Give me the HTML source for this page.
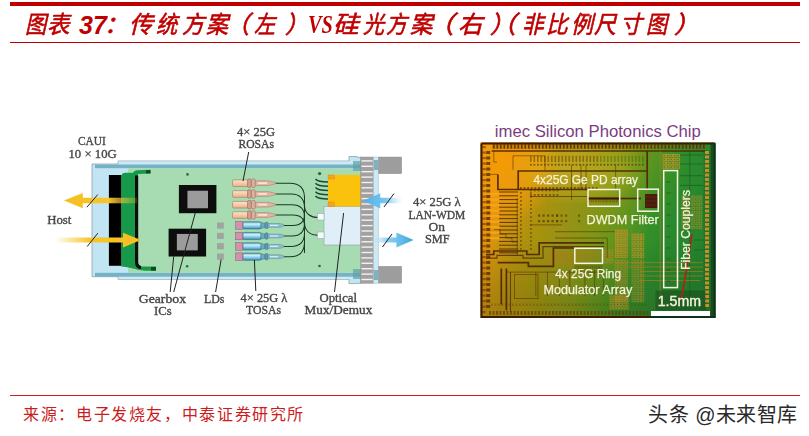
<!DOCTYPE html>
<html lang="zh-CN"><head><meta charset="utf-8">
<style>
html,body{margin:0;padding:0;background:#fff;}
body{width:809px;height:436px;position:relative;overflow:hidden;font-family:"Liberation Sans",sans-serif;}
.abs{position:absolute;}
#topbar{left:10px;top:2px;width:790px;height:4px;background:#c00000;}
#topline{left:10px;top:42px;width:790px;height:1px;background:#c00000;}
#title span{position:absolute;top:9.3px;line-height:32px;white-space:nowrap;color:#c00000;transform-origin:0 0;}
.cj{font-family:"Liberation Serif",serif;font-size:24px;font-weight:400;font-style:italic;-webkit-text-stroke:0.6px #c00000;}
.l37{font-family:"Liberation Sans",sans-serif;font-size:25px;font-weight:bold;font-style:italic;}
.lvs{font-family:"Liberation Serif",serif;font-size:26px;font-weight:bold;font-style:italic;transform:scaleX(0.78);transform-origin:0 0;}
#botline{left:10px;top:395px;width:790px;height:1px;background:#d02020;}
#src{left:23px;top:404px;font-family:"Liberation Serif",serif;font-size:16px;letter-spacing:1.63px;color:#cc1c1c;white-space:nowrap;line-height:22px;}
#wm{left:648.4px;top:402.4px;font-family:"Liberation Sans",sans-serif;font-size:20px;letter-spacing:0.4px;color:#2a2a2a;white-space:nowrap;line-height:26px;}
svg{position:absolute;left:0;top:0;}
</style></head><body>
<div class="abs" id="topbar"></div>
<div id="title">
<span class="cj" style="left:25.2px;transform:scaleX(0.888)">图</span>
<span class="cj" style="left:47.0px;transform:scaleX(0.938)">表</span>
<span class="l37" style="left:79.1px">37</span>
<span class="cj" style="left:104.4px">：</span>
<span class="cj" style="left:129.2px;transform:scaleX(0.992)">传</span>
<span class="cj" style="left:155.8px;transform:scaleX(0.888)">统</span>
<span class="cj" style="left:181.9px;transform:scaleX(0.930)">方</span>
<span class="cj" style="left:206.0px;transform:scaleX(0.919)">案</span>
<span class="cj" style="left:225.3px;transform:scaleX(1.020)">（</span>
<span class="cj" style="left:254.4px;transform:scaleX(0.880)">左</span>
<span class="cj" style="left:285.2px;transform:scaleX(0.982)">）</span>
<span class="lvs" style="left:308.0px">VS</span>
<span class="cj" style="left:333.3px;transform:scaleX(1.064)">硅</span>
<span class="cj" style="left:363.3px;transform:scaleX(0.880)">光</span>
<span class="cj" style="left:385.7px;transform:scaleX(0.880)">方</span>
<span class="cj" style="left:410.2px;transform:scaleX(0.933)">案</span>
<span class="cj" style="left:426.8px;transform:scaleX(1.120)">（</span>
<span class="cj" style="left:458.2px;transform:scaleX(1.019)">右</span>
<span class="cj" style="left:489.8px;transform:scaleX(0.991)">）</span>
<span class="cj" style="left:489.5px;transform:scaleX(1.080)">（</span>
<span class="cj" style="left:521.6px;transform:scaleX(0.896)">非</span>
<span class="cj" style="left:546.1px;transform:scaleX(0.904)">比</span>
<span class="cj" style="left:570.5px;transform:scaleX(0.915)">例</span>
<span class="cj" style="left:594.0px;transform:scaleX(0.919)">尺</span>
<span class="cj" style="left:620.1px;transform:scaleX(0.917)">寸</span>
<span class="cj" style="left:646.0px;transform:scaleX(0.880)">图</span>
<span class="cj" style="left:674.1px;transform:scaleX(1.055)">）</span>
</div>
<div class="abs" id="topline"></div>

<svg width="809" height="436" viewBox="0 0 809 436">
<defs>
  <linearGradient id="ya" x1="0" x2="1" y1="0" y2="0">
    <stop offset="0" stop-color="#f6be1e"/><stop offset="0.6" stop-color="#f7c62e"/><stop offset="1" stop-color="#f7c62e" stop-opacity="0.2"/>
  </linearGradient>
  <linearGradient id="yb" x1="0" x2="1" y1="0" y2="0">
    <stop offset="0" stop-color="#f7c62e" stop-opacity="0"/><stop offset="0.4" stop-color="#f7c62e"/><stop offset="1" stop-color="#f6be1e"/>
  </linearGradient>
  <linearGradient id="ba" x1="0" x2="1" y1="0" y2="0">
    <stop offset="0" stop-color="#4ab0e6"/><stop offset="0.6" stop-color="#7cc8ee"/><stop offset="1" stop-color="#cfeaf8" stop-opacity="0.1"/>
  </linearGradient>
  <linearGradient id="bb" x1="0" x2="1" y1="0" y2="0">
    <stop offset="0" stop-color="#cfeaf8" stop-opacity="0.1"/><stop offset="0.4" stop-color="#8ad0f0"/><stop offset="1" stop-color="#3aa8e2"/>
  </linearGradient>
  <linearGradient id="chipg" x1="476" x2="712" y1="185" y2="276" gradientUnits="userSpaceOnUse">
    <stop offset="0" stop-color="#f09a08"/><stop offset="0.1" stop-color="#ea9808"/><stop offset="0.17" stop-color="#cc980c"/><stop offset="0.26" stop-color="#aa9410"/><stop offset="0.4" stop-color="#929414"/><stop offset="0.52" stop-color="#7c9618"/><stop offset="0.62" stop-color="#5a9420"/><stop offset="0.7" stop-color="#349028"/><stop offset="0.78" stop-color="#2a8a2e"/><stop offset="1" stop-color="#22802e"/>
  </linearGradient>
  <radialGradient id="chipo" cx="500" cy="165" r="60" gradientUnits="userSpaceOnUse">
    <stop offset="0" stop-color="#f29c06" stop-opacity="0.9"/><stop offset="0.6" stop-color="#f09c08" stop-opacity="0.6"/><stop offset="1" stop-color="#f09c08" stop-opacity="0"/>
  </radialGradient>
  <radialGradient id="chipt" cx="580" cy="168" r="70" gradientUnits="userSpaceOnUse" gradientTransform="translate(580,168) scale(1,0.55) translate(-580,-168)">
    <stop offset="0" stop-color="#e8c830" stop-opacity="0.4"/><stop offset="0.6" stop-color="#e8c830" stop-opacity="0.22"/><stop offset="1" stop-color="#e8c830" stop-opacity="0"/>
  </radialGradient>
  <linearGradient id="chipv" x1="0" x2="0" y1="142" y2="318" gradientUnits="userSpaceOnUse">
    <stop offset="0" stop-color="#000" stop-opacity="0"/><stop offset="0.55" stop-color="#000" stop-opacity="0"/><stop offset="1" stop-color="#3a1800" stop-opacity="0.16"/>
  </linearGradient>
  <linearGradient id="chipl" x1="480" x2="600" y1="0" y2="0" gradientUnits="userSpaceOnUse">
    <stop offset="0" stop-color="#e07000" stop-opacity="0.12"/><stop offset="1" stop-color="#e07000" stop-opacity="0"/>
  </linearGradient>
  <pattern id="padh" width="4" height="5" patternUnits="userSpaceOnUse"><rect x="0.5" y="0" width="2" height="5" fill="#6a3608" fill-opacity="0.8"/></pattern>
  <pattern id="padh2" width="4" height="5" patternUnits="userSpaceOnUse"><rect x="0.5" y="0.5" width="2" height="4" fill="#6a3608" fill-opacity="0.6"/></pattern>
  <pattern id="padv" width="5" height="4" patternUnits="userSpaceOnUse"><rect x="0" y="0.5" width="5" height="2" fill="#6a3608" fill-opacity="0.8"/></pattern>
  <pattern id="padvo" width="5" height="4.5" patternUnits="userSpaceOnUse"><rect x="0.5" y="0.5" width="4" height="2.8" fill="#d08a20" fill-opacity="0.8"/></pattern>
  <linearGradient id="peach" x1="0" x2="0" y1="0" y2="1"><stop offset="0" stop-color="#fbe4c8"/><stop offset="0.5" stop-color="#f6cca6"/><stop offset="1" stop-color="#eab08c"/></linearGradient>
  <linearGradient id="tblue" x1="0" x2="0" y1="0" y2="1"><stop offset="0" stop-color="#5aa2c0"/><stop offset="0.3" stop-color="#d2f0fa"/><stop offset="0.6" stop-color="#8ed0ec"/><stop offset="1" stop-color="#3a88a8"/></linearGradient>
  <filter id="soft" x="-2%" y="-2%" width="104%" height="104%"><feGaussianBlur stdDeviation="0.45"/></filter>
  <filter id="soft2" x="-2%" y="-2%" width="104%" height="104%"><feGaussianBlur stdDeviation="0.3"/></filter>
</defs>

<g filter="url(#soft2)">
<!-- ============ LEFT DIAGRAM ============ -->
<!-- housing -->
<path d="M92,164 L118,164 L118,161 L349,161 L349,156.5 L357,156.5 L357,157.3 L361,157.3 L361,283.3 L357,283.3 L357,283.6 L349,283.6 L349,279.3 L118,279.3 L118,276.7 L92,276.7 Z" fill="#c2e5f4" stroke="#8ea2a9" stroke-width="0.8"/>
<!-- top / bottom blue bands -->
<rect x="95" y="164.6" width="266" height="3.6" fill="#76b2c6"/>
<rect x="118.5" y="161.5" width="242" height="1.8" fill="#cfeaf5"/>
<rect x="95" y="272.8" width="266" height="3.9" fill="#76b2c6"/>
<rect x="118.5" y="277" width="242" height="2" fill="#cfeaf5"/>
<!-- PCB -->
<rect x="128" y="168.2" width="233" height="104.6" fill="#a7dcb3"/>
<rect x="353" y="161" width="8" height="10" fill="#5f9faa" fill-opacity="0.7"/>
<rect x="353" y="269" width="8" height="10" fill="#5f9faa" fill-opacity="0.7"/>
<!-- black bar -->
<rect x="108.9" y="175" width="12.7" height="90.8" fill="#050505"/>
<!-- green connector -->
<path d="M121.3,177 Q121.3,172.8 125.5,172.8 L133,172.8 Q134,170.5 137,170.3 L150.5,169.8 L150.5,173.5 L138,174 L137.8,262 Q138,266.4 142,266.6 L156,266.6 L156,270.8 L145,270.8 Q139,270.5 134,268.8 Q127,267 121.3,266.6 Z" fill="#169a49"/>
<rect x="146" y="170.2" width="4.5" height="3.2" fill="#0b4a22"/>
<rect x="151" y="267" width="5" height="3.6" fill="#0b4a22"/>
<path d="M136.6,175.5 V262 Q136.6,267 141,267.5" fill="none" stroke="#0a0a0a" stroke-width="3.2"/>
<!-- dots -->
<g fill="#2d6a40"><circle cx="187.5" cy="174.4" r="1.3"/><circle cx="187.1" cy="266.2" r="1.3"/><circle cx="319.6" cy="173.6" r="1.7"/><circle cx="319.5" cy="266" r="1.3"/></g>
<!-- gearbox chips -->
<rect x="178.9" y="185" width="37.5" height="28.2" fill="#070707"/>
<rect x="187.4" y="190.7" width="20.6" height="17.6" fill="#9b9b9b"/>
<rect x="168.6" y="228.7" width="37.5" height="27.8" fill="#070707"/>
<rect x="176.8" y="233.9" width="21" height="16.5" fill="#9b9b9b"/>
<!-- LDs -->
<g fill="#9ea59f"><rect x="217" y="222.5" width="6.8" height="6.2"/><rect x="217" y="232.8" width="6.8" height="6.2"/><rect x="217" y="243.1" width="6.8" height="6.2"/><rect x="217" y="253.5" width="6.8" height="6.2"/></g>
<!-- fibers -->
<g fill="none" stroke="#1c3826" stroke-width="1.05">
 <path d="M304.5,196 V253"/>
 <path d="M275.5,183.2 H290 Q304.5,183.2 304.5,198"/>
 <path d="M275.5,194 H291 Q304.5,194 304.5,208"/>
 <path d="M275.5,204.7 H292 Q304.5,204.7 304.5,217"/>
 <path d="M275.5,215 H293 Q304.5,215 304.5,226"/>
 <path d="M284,225.4 H293 Q304.5,225.4 304.5,214"/>
 <path d="M284,236 H292 Q304.5,236 304.5,223"/>
 <path d="M284,246.4 H291 Q304.5,246.4 304.5,233"/>
 <path d="M284,256.7 H290 Q304.5,256.7 304.5,242"/>
 <path d="M304.5,206 C305,214 311,217.5 318,217.5"/>
 <path d="M304.5,223 C305,231.5 311,235.1 318,235.1"/>
</g>
<!-- ROSAs -->
<g transform="translate(0,183.2)">
 <rect x="232.6" y="-3.3" width="15.4" height="6.6" rx="0.8" fill="url(#peach)" stroke="#a27462" stroke-width="0.6"/>
 <rect x="247.6" y="-4.2" width="3.6" height="8.4" rx="1.2" fill="#d6a092" stroke="#8e5e50" stroke-width="0.5"/>
 <rect x="251.6" y="-4.2" width="3.6" height="8.4" rx="1.2" fill="#e2b2a2" stroke="#8e5e50" stroke-width="0.5"/>
 <path d="M255.4,-2.4 H268 L275.5,-0.7 V0.7 L268,2.4 H255.4 Z" fill="#e4b4a0" stroke="#a27462" stroke-width="0.5"/>
 <rect x="258" y="-1" width="9" height="1.8" fill="#fae0d8"/>
</g>
<g transform="translate(0,194)">
 <rect x="232.6" y="-3.3" width="15.4" height="6.6" rx="0.8" fill="url(#peach)" stroke="#a27462" stroke-width="0.6"/>
 <rect x="247.6" y="-4.2" width="3.6" height="8.4" rx="1.2" fill="#d6a092" stroke="#8e5e50" stroke-width="0.5"/>
 <rect x="251.6" y="-4.2" width="3.6" height="8.4" rx="1.2" fill="#e2b2a2" stroke="#8e5e50" stroke-width="0.5"/>
 <path d="M255.4,-2.4 H268 L275.5,-0.7 V0.7 L268,2.4 H255.4 Z" fill="#e4b4a0" stroke="#a27462" stroke-width="0.5"/>
 <rect x="258" y="-1" width="9" height="1.8" fill="#fae0d8"/>
</g>
<g transform="translate(0,204.7)">
 <rect x="232.6" y="-3.3" width="15.4" height="6.6" rx="0.8" fill="url(#peach)" stroke="#a27462" stroke-width="0.6"/>
 <rect x="247.6" y="-4.2" width="3.6" height="8.4" rx="1.2" fill="#d6a092" stroke="#8e5e50" stroke-width="0.5"/>
 <rect x="251.6" y="-4.2" width="3.6" height="8.4" rx="1.2" fill="#e2b2a2" stroke="#8e5e50" stroke-width="0.5"/>
 <path d="M255.4,-2.4 H268 L275.5,-0.7 V0.7 L268,2.4 H255.4 Z" fill="#e4b4a0" stroke="#a27462" stroke-width="0.5"/>
 <rect x="258" y="-1" width="9" height="1.8" fill="#fae0d8"/>
</g>
<g transform="translate(0,215)">
 <rect x="232.6" y="-3.3" width="15.4" height="6.6" rx="0.8" fill="url(#peach)" stroke="#a27462" stroke-width="0.6"/>
 <rect x="247.6" y="-4.2" width="3.6" height="8.4" rx="1.2" fill="#d6a092" stroke="#8e5e50" stroke-width="0.5"/>
 <rect x="251.6" y="-4.2" width="3.6" height="8.4" rx="1.2" fill="#e2b2a2" stroke="#8e5e50" stroke-width="0.5"/>
 <path d="M255.4,-2.4 H268 L275.5,-0.7 V0.7 L268,2.4 H255.4 Z" fill="#e4b4a0" stroke="#a27462" stroke-width="0.5"/>
 <rect x="258" y="-1" width="9" height="1.8" fill="#fae0d8"/>
</g>

<!-- TOSAs -->
<g transform="translate(0,225.4)">
 <rect x="235.7" y="-3.8" width="7.3" height="7.6" fill="#d590ae" stroke="#86586c" stroke-width="0.5"/>
 <rect x="243" y="-3.6" width="18" height="7.2" rx="1.5" fill="url(#tblue)" stroke="#2e6878" stroke-width="0.6"/>
 <path d="M261,-3 L265,-2 V2 L261,3Z" fill="#6aaac4" stroke="#2e6878" stroke-width="0.4"/>
 <rect x="265" y="-3.2" width="3" height="6.4" rx="1" fill="#5d9cb4" stroke="#2e6878" stroke-width="0.4"/>
 <path d="M268,-1.9 H280 L284,-0.7 V0.7 L280,1.9 H268Z" fill="#8fbed0" stroke="#3e7888" stroke-width="0.4"/>
 <rect x="270" y="-0.6" width="8" height="1.2" fill="#d8eef6"/>
</g>
<g transform="translate(0,236)">
 <rect x="235.7" y="-3.8" width="7.3" height="7.6" fill="#d590ae" stroke="#86586c" stroke-width="0.5"/>
 <rect x="243" y="-3.6" width="18" height="7.2" rx="1.5" fill="url(#tblue)" stroke="#2e6878" stroke-width="0.6"/>
 <path d="M261,-3 L265,-2 V2 L261,3Z" fill="#6aaac4" stroke="#2e6878" stroke-width="0.4"/>
 <rect x="265" y="-3.2" width="3" height="6.4" rx="1" fill="#5d9cb4" stroke="#2e6878" stroke-width="0.4"/>
 <path d="M268,-1.9 H280 L284,-0.7 V0.7 L280,1.9 H268Z" fill="#8fbed0" stroke="#3e7888" stroke-width="0.4"/>
 <rect x="270" y="-0.6" width="8" height="1.2" fill="#d8eef6"/>
</g>
<g transform="translate(0,246.4)">
 <rect x="235.7" y="-3.8" width="7.3" height="7.6" fill="#d590ae" stroke="#86586c" stroke-width="0.5"/>
 <rect x="243" y="-3.6" width="18" height="7.2" rx="1.5" fill="url(#tblue)" stroke="#2e6878" stroke-width="0.6"/>
 <path d="M261,-3 L265,-2 V2 L261,3Z" fill="#6aaac4" stroke="#2e6878" stroke-width="0.4"/>
 <rect x="265" y="-3.2" width="3" height="6.4" rx="1" fill="#5d9cb4" stroke="#2e6878" stroke-width="0.4"/>
 <path d="M268,-1.9 H280 L284,-0.7 V0.7 L280,1.9 H268Z" fill="#8fbed0" stroke="#3e7888" stroke-width="0.4"/>
 <rect x="270" y="-0.6" width="8" height="1.2" fill="#d8eef6"/>
</g>
<g transform="translate(0,256.7)">
 <rect x="235.7" y="-3.8" width="7.3" height="7.6" fill="#d590ae" stroke="#86586c" stroke-width="0.5"/>
 <rect x="243" y="-3.6" width="18" height="7.2" rx="1.5" fill="url(#tblue)" stroke="#2e6878" stroke-width="0.6"/>
 <path d="M261,-3 L265,-2 V2 L261,3Z" fill="#6aaac4" stroke="#2e6878" stroke-width="0.4"/>
 <rect x="265" y="-3.2" width="3" height="6.4" rx="1" fill="#5d9cb4" stroke="#2e6878" stroke-width="0.4"/>
 <path d="M268,-1.9 H280 L284,-0.7 V0.7 L280,1.9 H268Z" fill="#8fbed0" stroke="#3e7888" stroke-width="0.4"/>
 <rect x="270" y="-0.6" width="8" height="1.2" fill="#d8eef6"/>
</g>

<!-- Mux light box -->
<rect x="324" y="206.5" width="37" height="38.5" fill="#e0eff7" stroke="#8ea2a9" stroke-width="0.6"/>
<rect x="317.5" y="213.5" width="6.5" height="6.5" fill="#f6fafb" stroke="#8ea2a9" stroke-width="0.5"/>
<rect x="317.5" y="232" width="6.5" height="6.5" fill="#f6fafb" stroke="#8ea2a9" stroke-width="0.5"/>
<!-- yellow chip -->
<rect x="328" y="174.8" width="33" height="31.7" fill="#fac20e"/>
<path d="M328,175 h5 a1.5,1.5 0 0 1 1.5,1.5 v2.5 h-6.5z M328,202 h5 a1.5,1.5 0 0 1 1.5,1.5 v3 h-6.5z" fill="#f2a424" stroke="#d2861a" stroke-width="0.4"/>
<g fill="none" stroke="#1f4a30" stroke-width="1.4"><path d="M315.5,179.0 Q318,182.0 328,182.0"/><path d="M315.5,183.3 Q318,186.3 328,186.3"/><path d="M315.5,187.5 Q318,190.5 328,190.5"/><path d="M315.5,191.8 Q318,194.8 328,194.8"/><path d="M315.5,196.0 Q318,199.0 328,199.0"/></g>
<!-- ribbed strip -->
<rect x="360.7" y="157" width="12.8" height="126.3" fill="#a3a0a2" stroke="#8a8a8a" stroke-width="0.4"/>
<g stroke="#f2f2f2" stroke-width="1.4">
 <path d="M361.5,160.9h11.2"/><path d="M361.5,166.3h11.2"/><path d="M361.5,171.7h11.2"/><path d="M361.5,177.1h11.2"/><path d="M361.5,182.5h11.2"/><path d="M361.5,187.8h11.2"/><path d="M361.5,193.2h11.2"/><path d="M361.5,198.6h11.2"/><path d="M361.5,204.0h11.2"/><path d="M361.5,209.4h11.2"/><path d="M361.5,214.8h11.2"/><path d="M361.5,220.2h11.2"/><path d="M361.5,225.6h11.2"/><path d="M361.5,231.0h11.2"/><path d="M361.5,236.4h11.2"/><path d="M361.5,241.8h11.2"/><path d="M361.5,247.1h11.2"/><path d="M361.5,252.5h11.2"/><path d="M361.5,257.9h11.2"/><path d="M361.5,263.3h11.2"/><path d="M361.5,268.7h11.2"/><path d="M361.5,274.1h11.2"/><path d="M361.5,279.5h11.2"/>
</g>
<rect x="373.5" y="157" width="5" height="126.3" fill="#cde9f5" stroke="#9ab0b8" stroke-width="0.4"/>
<rect x="373.8" y="160" width="4.4" height="10" fill="#6aa4b4" fill-opacity="0.8"/>
<rect x="373.8" y="270" width="4.4" height="10" fill="#6aa4b4" fill-opacity="0.8"/>
<!-- gray blocks -->
<rect x="378.5" y="157" width="23.2" height="16.7" fill="#9d9d9d" stroke="#8a8a8a" stroke-width="0.4"/>
<rect x="378.5" y="266.3" width="23.2" height="16.8" fill="#9d9d9d" stroke="#8a8a8a" stroke-width="0.4"/>
<!-- arrows -->
<path d="M137,197.8 L82.8,197.8 L82.8,193 L64,200.5 L82.8,208.2 L82.8,203.2 L137,203.2 Z" fill="url(#ya)"/>
<path d="M55,237.5 L123,237.5 L123,232.8 L141,240.1 L123,247.4 L123,242.6 L55,242.6 Z" fill="url(#yb)"/>
<path d="M402,197.8 L380.3,197.8 L380.3,193.2 L363,200.8 L380.3,208.4 L380.3,203.2 L402,203.2 Z" fill="url(#ba)"/>
<path d="M371,237.6 L396.4,237.6 L396.4,232.6 L413.6,240 L396.4,247.5 L396.4,242.5 L371,242.5 Z" fill="url(#bb)"/>
<!-- slashes -->
<g stroke="#222" stroke-width="1">
 <path d="M86.9,207.2 L97.7,194.6"/><path d="M87.2,246.5 L97.8,233.2"/><path d="M384,207 L394,193.5"/><path d="M382.5,247 L392,234"/>
</g>
<!-- leader lines -->
<g stroke="#222" stroke-width="1" fill="none">
 <path d="M248.7,152 L243,181"/>
 <path d="M170.2,292 L173.7,256.5"/><path d="M173.7,292 L195.4,212.5"/>
 <path d="M215.6,292 L221.1,259.5"/>
 <path d="M255.8,291 L254.4,260"/>
 <path d="M334.5,292 L343.6,213"/>
</g>
<!-- labels -->
<g font-family="Liberation Serif,serif" font-size="12" fill="#474747" stroke="#474747" stroke-width="0.35">
 <text x="78" y="145" textLength="27.7" lengthAdjust="spacingAndGlyphs">CAUI</text>
 <text x="68.5" y="158" textLength="48.2" lengthAdjust="spacingAndGlyphs">10 × 10G</text>
 <text x="47.2" y="224" textLength="24.1" lengthAdjust="spacingAndGlyphs">Host</text>
 <text x="237" y="135.6" textLength="38.0" lengthAdjust="spacingAndGlyphs">4× 25G</text>
 <text x="238.4" y="148" textLength="35.6" lengthAdjust="spacingAndGlyphs">ROSAs</text>
 <text x="138.8" y="302.6" textLength="47.2" lengthAdjust="spacingAndGlyphs">Gearbox</text>
 <text x="154" y="314.6" textLength="17.6" lengthAdjust="spacingAndGlyphs">ICs</text>
 <text x="204" y="302.8" textLength="20.5" lengthAdjust="spacingAndGlyphs">LDs</text>
 <text x="240.6" y="301.8" textLength="46.8" lengthAdjust="spacingAndGlyphs">4× 25G λ</text>
 <text x="246" y="314.2" textLength="35.0" lengthAdjust="spacingAndGlyphs">TOSAs</text>
 <text x="319.5" y="301.6" textLength="37.5" lengthAdjust="spacingAndGlyphs">Optical</text>
 <text x="304.6" y="314.2" textLength="67.7" lengthAdjust="spacingAndGlyphs">Mux/Demux</text>
 <text x="413" y="206" textLength="47.7" lengthAdjust="spacingAndGlyphs">4× 25G λ</text>
 <text x="408.4" y="218.6" textLength="56.9" lengthAdjust="spacingAndGlyphs">LAN-WDM</text>
 <text x="428.6" y="230.5" textLength="16.4" lengthAdjust="spacingAndGlyphs">On</text>
 <text x="425" y="243.2" textLength="24.7" lengthAdjust="spacingAndGlyphs">SMF</text>
</g>

</g>
<!-- ============ RIGHT CHIP ============ -->
<text x="494.8" y="137.2" font-family="Liberation Sans,sans-serif" font-size="16.5" fill="#7b3c82" textLength="206" lengthAdjust="spacingAndGlyphs">imec Silicon Photonics Chip</text>
<g filter="url(#soft)">
<rect x="480.5" y="142.5" width="235" height="175.5" fill="url(#chipg)"/>
<rect x="480.5" y="142.5" width="235" height="175.5" fill="url(#chipv)"/>
<rect x="710.5" y="143" width="5" height="175" fill="#18441c" fill-opacity="0.85"/>
<rect x="480.5" y="142.5" width="120" height="175" fill="url(#chipl)"/>
<rect x="480.5" y="142.5" width="100" height="100" fill="url(#chipo)"/>
<!-- top-center yellow-green wash -->
<rect x="505" y="143" width="150" height="60" fill="url(#chipt)"/>
<rect x="492" y="144" width="214" height="5" fill="#8a5a10" fill-opacity="0.35"/>
<g fill="#5a2c04" fill-opacity="0.85"><rect x="493.0" y="144.3" width="1.6" height="4.4"/><rect x="496.5" y="144.3" width="1.6" height="4.4"/><rect x="500.0" y="144.3" width="1.6" height="4.4"/><rect x="503.5" y="144.3" width="1.6" height="4.4"/><rect x="507.0" y="144.3" width="1.6" height="4.4"/><rect x="510.5" y="144.3" width="1.6" height="4.4"/><rect x="514.0" y="144.3" width="1.6" height="4.4"/><rect x="517.5" y="144.3" width="1.6" height="4.4"/><rect x="521.0" y="144.3" width="1.6" height="4.4"/><rect x="524.5" y="144.3" width="1.6" height="4.4"/><rect x="528.0" y="144.3" width="1.6" height="4.4"/><rect x="531.5" y="144.3" width="1.6" height="4.4"/><rect x="535.0" y="144.3" width="1.6" height="4.4"/><rect x="538.5" y="144.3" width="1.6" height="4.4"/><rect x="542.0" y="144.3" width="1.6" height="4.4"/><rect x="545.5" y="144.3" width="1.6" height="4.4"/><rect x="549.0" y="144.3" width="1.6" height="4.4"/><rect x="552.5" y="144.3" width="1.6" height="4.4"/><rect x="556.0" y="144.3" width="1.6" height="4.4"/><rect x="559.5" y="144.3" width="1.6" height="4.4"/><rect x="563.0" y="144.3" width="1.6" height="4.4"/><rect x="566.5" y="144.3" width="1.6" height="4.4"/><rect x="570.0" y="144.3" width="1.6" height="4.4"/><rect x="573.5" y="144.3" width="1.6" height="4.4"/><rect x="577.0" y="144.3" width="1.6" height="4.4"/><rect x="580.5" y="144.3" width="1.6" height="4.4"/><rect x="584.0" y="144.3" width="1.6" height="4.4"/><rect x="587.5" y="144.3" width="1.6" height="4.4"/><rect x="591.0" y="144.3" width="1.6" height="4.4"/><rect x="594.5" y="144.3" width="1.6" height="4.4"/><rect x="598.0" y="144.3" width="1.6" height="4.4"/><rect x="601.5" y="144.3" width="1.6" height="4.4"/><rect x="605.0" y="144.3" width="1.6" height="4.4"/><rect x="608.5" y="144.3" width="1.6" height="4.4"/><rect x="612.0" y="144.3" width="1.6" height="4.4"/><rect x="615.5" y="144.3" width="1.6" height="4.4"/><rect x="619.0" y="144.3" width="1.6" height="4.4"/><rect x="622.5" y="144.3" width="1.6" height="4.4"/><rect x="626.0" y="144.3" width="1.6" height="4.4"/><rect x="629.5" y="144.3" width="1.6" height="4.4"/><rect x="633.0" y="144.3" width="1.6" height="4.4"/><rect x="636.5" y="144.3" width="1.6" height="4.4"/><rect x="640.0" y="144.3" width="1.6" height="4.4"/><rect x="643.5" y="144.3" width="1.6" height="4.4"/><rect x="647.0" y="144.3" width="1.6" height="4.4"/><rect x="650.5" y="144.3" width="1.6" height="4.4"/><rect x="654.0" y="144.3" width="1.6" height="4.4"/><rect x="657.5" y="144.3" width="1.6" height="4.4"/><rect x="661.0" y="144.3" width="1.6" height="4.4"/><rect x="664.5" y="144.3" width="1.6" height="4.4"/><rect x="668.0" y="144.3" width="1.6" height="4.4"/><rect x="671.5" y="144.3" width="1.6" height="4.4"/><rect x="675.0" y="144.3" width="1.6" height="4.4"/><rect x="678.5" y="144.3" width="1.6" height="4.4"/><rect x="682.0" y="144.3" width="1.6" height="4.4"/><rect x="685.5" y="144.3" width="1.6" height="4.4"/><rect x="689.0" y="144.3" width="1.6" height="4.4"/><rect x="692.5" y="144.3" width="1.6" height="4.4"/><rect x="696.0" y="144.3" width="1.6" height="4.4"/><rect x="699.5" y="144.3" width="1.6" height="4.4"/><rect x="703.0" y="144.3" width="1.6" height="4.4"/></g>
<g fill="#7a4008" fill-opacity="0.7"><rect x="482.5" y="146.0" width="3.2" height="2.2"/><rect x="482.5" y="151.5" width="3.2" height="2.2"/><rect x="482.5" y="157.0" width="3.2" height="2.2"/><rect x="482.5" y="162.5" width="3.2" height="2.2"/><rect x="482.5" y="168.0" width="3.2" height="2.2"/><rect x="482.5" y="173.5" width="3.2" height="2.2"/><rect x="482.5" y="179.0" width="3.2" height="2.2"/><rect x="482.5" y="184.5" width="3.2" height="2.2"/><rect x="482.5" y="190.0" width="3.2" height="2.2"/><rect x="482.5" y="195.5" width="3.2" height="2.2"/><rect x="482.5" y="201.0" width="3.2" height="2.2"/><rect x="482.5" y="206.5" width="3.2" height="2.2"/><rect x="482.5" y="212.0" width="3.2" height="2.2"/><rect x="482.5" y="217.5" width="3.2" height="2.2"/><rect x="482.5" y="223.0" width="3.2" height="2.2"/><rect x="482.5" y="228.5" width="3.2" height="2.2"/><rect x="482.5" y="234.0" width="3.2" height="2.2"/><rect x="482.5" y="239.5" width="3.2" height="2.2"/><rect x="482.5" y="245.0" width="3.2" height="2.2"/><rect x="482.5" y="250.5" width="3.2" height="2.2"/><rect x="482.5" y="256.0" width="3.2" height="2.2"/><rect x="482.5" y="261.5" width="3.2" height="2.2"/><rect x="482.5" y="267.0" width="3.2" height="2.2"/><rect x="482.5" y="272.5" width="3.2" height="2.2"/><rect x="482.5" y="278.0" width="3.2" height="2.2"/><rect x="482.5" y="283.5" width="3.2" height="2.2"/><rect x="482.5" y="289.0" width="3.2" height="2.2"/><rect x="482.5" y="294.5" width="3.2" height="2.2"/><rect x="482.5" y="300.0" width="3.2" height="2.2"/><rect x="482.5" y="305.5" width="3.2" height="2.2"/><rect x="482.5" y="311.0" width="3.2" height="2.2"/></g>
<g fill="#5a2c04" fill-opacity="0.8"><rect x="486.2" y="151.0" width="4" height="3"/><rect x="486.2" y="156.5" width="4" height="3"/><rect x="486.2" y="162.0" width="4" height="3"/><rect x="486.2" y="167.5" width="4" height="3"/><rect x="486.2" y="173.0" width="4" height="3"/><rect x="486.2" y="178.5" width="4" height="3"/><rect x="486.2" y="184.0" width="4" height="3"/><rect x="486.2" y="189.5" width="4" height="3"/><rect x="486.2" y="195.0" width="4" height="3"/><rect x="486.2" y="200.5" width="4" height="3"/><rect x="486.2" y="206.0" width="4" height="3"/><rect x="486.2" y="211.5" width="4" height="3"/><rect x="486.2" y="217.0" width="4" height="3"/><rect x="486.2" y="222.5" width="4" height="3"/><rect x="486.2" y="228.0" width="4" height="3"/><rect x="486.2" y="233.5" width="4" height="3"/><rect x="486.2" y="239.0" width="4" height="3"/><rect x="486.2" y="244.5" width="4" height="3"/><rect x="486.2" y="250.0" width="4" height="3"/><rect x="486.2" y="255.5" width="4" height="3"/><rect x="486.2" y="261.0" width="4" height="3"/><rect x="486.2" y="266.5" width="4" height="3"/><rect x="486.2" y="272.0" width="4" height="3"/><rect x="486.2" y="277.5" width="4" height="3"/><rect x="486.2" y="283.0" width="4" height="3"/><rect x="486.2" y="288.5" width="4" height="3"/><rect x="486.2" y="294.0" width="4" height="3"/><rect x="486.2" y="299.5" width="4" height="3"/><rect x="486.2" y="305.0" width="4" height="3"/></g>
<rect x="703.5" y="150" width="7.5" height="162" fill="#1e6a28" fill-opacity="0.6"/>
<g fill="#d8922a" fill-opacity="0.9"><rect x="705" y="151.0" width="4" height="3"/><rect x="705" y="155.5" width="4" height="3"/><rect x="705" y="160.0" width="4" height="3"/><rect x="705" y="164.5" width="4" height="3"/><rect x="705" y="169.0" width="4" height="3"/><rect x="705" y="173.5" width="4" height="3"/><rect x="705" y="178.0" width="4" height="3"/><rect x="705" y="182.5" width="4" height="3"/><rect x="705" y="187.0" width="4" height="3"/><rect x="705" y="191.5" width="4" height="3"/><rect x="705" y="196.0" width="4" height="3"/><rect x="705" y="200.5" width="4" height="3"/><rect x="705" y="205.0" width="4" height="3"/><rect x="705" y="209.5" width="4" height="3"/><rect x="705" y="214.0" width="4" height="3"/><rect x="705" y="218.5" width="4" height="3"/><rect x="705" y="223.0" width="4" height="3"/><rect x="705" y="227.5" width="4" height="3"/><rect x="705" y="232.0" width="4" height="3"/><rect x="705" y="236.5" width="4" height="3"/><rect x="705" y="241.0" width="4" height="3"/><rect x="705" y="245.5" width="4" height="3"/><rect x="705" y="250.0" width="4" height="3"/><rect x="705" y="254.5" width="4" height="3"/><rect x="705" y="259.0" width="4" height="3"/><rect x="705" y="263.5" width="4" height="3"/><rect x="705" y="268.0" width="4" height="3"/><rect x="705" y="272.5" width="4" height="3"/><rect x="705" y="277.0" width="4" height="3"/><rect x="705" y="281.5" width="4" height="3"/><rect x="705" y="286.0" width="4" height="3"/><rect x="705" y="290.5" width="4" height="3"/><rect x="705" y="295.0" width="4" height="3"/><rect x="705" y="299.5" width="4" height="3"/><rect x="705" y="304.0" width="4" height="3"/></g>
<g fill="#6a3a08" fill-opacity="0.7"><rect x="489.0" y="311" width="2" height="3.8"/><rect x="492.5" y="311" width="2" height="3.8"/><rect x="496.0" y="311" width="2" height="3.8"/><rect x="499.5" y="311" width="2" height="3.8"/><rect x="503.0" y="311" width="2" height="3.8"/><rect x="506.5" y="311" width="2" height="3.8"/><rect x="510.0" y="311" width="2" height="3.8"/><rect x="513.5" y="311" width="2" height="3.8"/><rect x="517.0" y="311" width="2" height="3.8"/><rect x="520.5" y="311" width="2" height="3.8"/><rect x="524.0" y="311" width="2" height="3.8"/><rect x="527.5" y="311" width="2" height="3.8"/><rect x="531.0" y="311" width="2" height="3.8"/><rect x="534.5" y="311" width="2" height="3.8"/><rect x="538.0" y="311" width="2" height="3.8"/><rect x="541.5" y="311" width="2" height="3.8"/><rect x="545.0" y="311" width="2" height="3.8"/><rect x="548.5" y="311" width="2" height="3.8"/><rect x="552.0" y="311" width="2" height="3.8"/><rect x="555.5" y="311" width="2" height="3.8"/><rect x="559.0" y="311" width="2" height="3.8"/><rect x="562.5" y="311" width="2" height="3.8"/><rect x="566.0" y="311" width="2" height="3.8"/><rect x="569.5" y="311" width="2" height="3.8"/><rect x="573.0" y="311" width="2" height="3.8"/><rect x="576.5" y="311" width="2" height="3.8"/><rect x="580.0" y="311" width="2" height="3.8"/><rect x="583.5" y="311" width="2" height="3.8"/><rect x="587.0" y="311" width="2" height="3.8"/><rect x="590.5" y="311" width="2" height="3.8"/><rect x="594.0" y="311" width="2" height="3.8"/><rect x="597.5" y="311" width="2" height="3.8"/><rect x="601.0" y="311" width="2" height="3.8"/><rect x="604.5" y="311" width="2" height="3.8"/><rect x="608.0" y="311" width="2" height="3.8"/><rect x="611.5" y="311" width="2" height="3.8"/><rect x="615.0" y="311" width="2" height="3.8"/><rect x="618.5" y="311" width="2" height="3.8"/><rect x="622.0" y="311" width="2" height="3.8"/><rect x="625.5" y="311" width="2" height="3.8"/><rect x="629.0" y="311" width="2" height="3.8"/><rect x="632.5" y="311" width="2" height="3.8"/><rect x="636.0" y="311" width="2" height="3.8"/><rect x="639.5" y="311" width="2" height="3.8"/><rect x="643.0" y="311" width="2" height="3.8"/><rect x="646.5" y="311" width="2" height="3.8"/></g>
<g fill="#6a3a08" fill-opacity="0.35"><rect x="491.0" y="303.5" width="1.8" height="2.4"/><rect x="494.5" y="303.5" width="1.8" height="2.4"/><rect x="498.0" y="303.5" width="1.8" height="2.4"/><rect x="501.5" y="303.5" width="1.8" height="2.4"/><rect x="505.0" y="303.5" width="1.8" height="2.4"/><rect x="508.5" y="303.5" width="1.8" height="2.4"/><rect x="512.0" y="303.5" width="1.8" height="2.4"/><rect x="515.5" y="303.5" width="1.8" height="2.4"/><rect x="519.0" y="303.5" width="1.8" height="2.4"/><rect x="522.5" y="303.5" width="1.8" height="2.4"/><rect x="526.0" y="303.5" width="1.8" height="2.4"/><rect x="529.5" y="303.5" width="1.8" height="2.4"/><rect x="533.0" y="303.5" width="1.8" height="2.4"/><rect x="536.5" y="303.5" width="1.8" height="2.4"/><rect x="540.0" y="303.5" width="1.8" height="2.4"/><rect x="543.5" y="303.5" width="1.8" height="2.4"/><rect x="547.0" y="303.5" width="1.8" height="2.4"/><rect x="550.5" y="303.5" width="1.8" height="2.4"/><rect x="554.0" y="303.5" width="1.8" height="2.4"/><rect x="557.5" y="303.5" width="1.8" height="2.4"/><rect x="561.0" y="303.5" width="1.8" height="2.4"/><rect x="564.5" y="303.5" width="1.8" height="2.4"/><rect x="568.0" y="303.5" width="1.8" height="2.4"/><rect x="571.5" y="303.5" width="1.8" height="2.4"/><rect x="575.0" y="303.5" width="1.8" height="2.4"/><rect x="578.5" y="303.5" width="1.8" height="2.4"/><rect x="582.0" y="303.5" width="1.8" height="2.4"/><rect x="585.5" y="303.5" width="1.8" height="2.4"/><rect x="589.0" y="303.5" width="1.8" height="2.4"/><rect x="592.5" y="303.5" width="1.8" height="2.4"/><rect x="596.0" y="303.5" width="1.8" height="2.4"/><rect x="599.5" y="303.5" width="1.8" height="2.4"/><rect x="603.0" y="303.5" width="1.8" height="2.4"/><rect x="606.5" y="303.5" width="1.8" height="2.4"/><rect x="610.0" y="303.5" width="1.8" height="2.4"/><rect x="613.5" y="303.5" width="1.8" height="2.4"/><rect x="617.0" y="303.5" width="1.8" height="2.4"/><rect x="620.5" y="303.5" width="1.8" height="2.4"/><rect x="624.0" y="303.5" width="1.8" height="2.4"/><rect x="627.5" y="303.5" width="1.8" height="2.4"/><rect x="631.0" y="303.5" width="1.8" height="2.4"/><rect x="634.5" y="303.5" width="1.8" height="2.4"/><rect x="638.0" y="303.5" width="1.8" height="2.4"/><rect x="641.5" y="303.5" width="1.8" height="2.4"/><rect x="645.0" y="303.5" width="1.8" height="2.4"/></g>
<g fill="#6a4008" fill-opacity="0.55"><rect x="530.0" y="155.8" width="1.6" height="6.2"/><rect x="533.5" y="155.8" width="1.6" height="6.2"/><rect x="537.0" y="155.8" width="1.6" height="6.2"/><rect x="540.5" y="155.8" width="1.6" height="6.2"/><rect x="544.0" y="155.8" width="1.6" height="6.2"/><rect x="547.5" y="155.8" width="1.6" height="6.2"/><rect x="551.0" y="155.8" width="1.6" height="6.2"/><rect x="554.5" y="155.8" width="1.6" height="6.2"/><rect x="558.0" y="155.8" width="1.6" height="6.2"/><rect x="561.5" y="155.8" width="1.6" height="6.2"/><rect x="565.0" y="155.8" width="1.6" height="6.2"/><rect x="568.5" y="155.8" width="1.6" height="6.2"/><rect x="572.0" y="155.8" width="1.6" height="6.2"/><rect x="575.5" y="155.8" width="1.6" height="6.2"/><rect x="579.0" y="155.8" width="1.6" height="6.2"/><rect x="582.5" y="155.8" width="1.6" height="6.2"/><rect x="586.0" y="155.8" width="1.6" height="6.2"/><rect x="589.5" y="155.8" width="1.6" height="6.2"/><rect x="593.0" y="155.8" width="1.6" height="6.2"/><rect x="596.5" y="155.8" width="1.6" height="6.2"/></g>
<g fill="#4a5a08" fill-opacity="0.45"><rect x="600.0" y="155.8" width="1.6" height="6.2"/><rect x="603.5" y="155.8" width="1.6" height="6.2"/><rect x="607.0" y="155.8" width="1.6" height="6.2"/><rect x="610.5" y="155.8" width="1.6" height="6.2"/><rect x="614.0" y="155.8" width="1.6" height="6.2"/><rect x="617.5" y="155.8" width="1.6" height="6.2"/><rect x="621.0" y="155.8" width="1.6" height="6.2"/><rect x="624.5" y="155.8" width="1.6" height="6.2"/><rect x="628.0" y="155.8" width="1.6" height="6.2"/><rect x="631.5" y="155.8" width="1.6" height="6.2"/><rect x="635.0" y="155.8" width="1.6" height="6.2"/><rect x="638.5" y="155.8" width="1.6" height="6.2"/><rect x="642.0" y="155.8" width="1.6" height="6.2"/></g>
<g fill="#5a3a06" fill-opacity="0.7"><rect x="530.0" y="163.8" width="1.8" height="1.8"/><rect x="533.5" y="163.8" width="1.8" height="1.8"/><rect x="537.0" y="163.8" width="1.8" height="1.8"/><rect x="540.5" y="163.8" width="1.8" height="1.8"/><rect x="544.0" y="163.8" width="1.8" height="1.8"/><rect x="547.5" y="163.8" width="1.8" height="1.8"/><rect x="551.0" y="163.8" width="1.8" height="1.8"/><rect x="554.5" y="163.8" width="1.8" height="1.8"/><rect x="558.0" y="163.8" width="1.8" height="1.8"/><rect x="561.5" y="163.8" width="1.8" height="1.8"/><rect x="565.0" y="163.8" width="1.8" height="1.8"/><rect x="568.5" y="163.8" width="1.8" height="1.8"/><rect x="572.0" y="163.8" width="1.8" height="1.8"/><rect x="575.5" y="163.8" width="1.8" height="1.8"/><rect x="579.0" y="163.8" width="1.8" height="1.8"/><rect x="582.5" y="163.8" width="1.8" height="1.8"/><rect x="586.0" y="163.8" width="1.8" height="1.8"/><rect x="589.5" y="163.8" width="1.8" height="1.8"/><rect x="593.0" y="163.8" width="1.8" height="1.8"/><rect x="596.5" y="163.8" width="1.8" height="1.8"/><rect x="600.0" y="163.8" width="1.8" height="1.8"/><rect x="603.5" y="163.8" width="1.8" height="1.8"/><rect x="607.0" y="163.8" width="1.8" height="1.8"/><rect x="610.5" y="163.8" width="1.8" height="1.8"/><rect x="614.0" y="163.8" width="1.8" height="1.8"/><rect x="617.5" y="163.8" width="1.8" height="1.8"/><rect x="621.0" y="163.8" width="1.8" height="1.8"/><rect x="624.5" y="163.8" width="1.8" height="1.8"/><rect x="628.0" y="163.8" width="1.8" height="1.8"/><rect x="631.5" y="163.8" width="1.8" height="1.8"/><rect x="635.0" y="163.8" width="1.8" height="1.8"/><rect x="638.5" y="163.8" width="1.8" height="1.8"/><rect x="642.0" y="163.8" width="1.8" height="1.8"/></g>
<g fill="#5a3a06" fill-opacity="0.7"><rect x="530.0" y="189.5" width="1.8" height="1.8"/><rect x="533.8" y="189.5" width="1.8" height="1.8"/><rect x="537.6" y="189.5" width="1.8" height="1.8"/><rect x="541.4" y="189.5" width="1.8" height="1.8"/><rect x="545.2" y="189.5" width="1.8" height="1.8"/><rect x="549.0" y="189.5" width="1.8" height="1.8"/><rect x="552.8" y="189.5" width="1.8" height="1.8"/><rect x="556.6" y="189.5" width="1.8" height="1.8"/><rect x="530.0" y="194.0" width="1.8" height="1.8"/><rect x="533.8" y="194.0" width="1.8" height="1.8"/><rect x="537.6" y="194.0" width="1.8" height="1.8"/><rect x="541.4" y="194.0" width="1.8" height="1.8"/><rect x="545.2" y="194.0" width="1.8" height="1.8"/><rect x="549.0" y="194.0" width="1.8" height="1.8"/><rect x="552.8" y="194.0" width="1.8" height="1.8"/><rect x="556.6" y="194.0" width="1.8" height="1.8"/></g>
<g fill="#5a3a06" fill-opacity="0.75"><rect x="538.0" y="214.5" width="2.2" height="2.2"/><rect x="542.5" y="214.5" width="2.2" height="2.2"/><rect x="547.0" y="214.5" width="2.2" height="2.2"/><rect x="551.5" y="214.5" width="2.2" height="2.2"/><rect x="556.0" y="214.5" width="2.2" height="2.2"/><rect x="538.0" y="220.0" width="2.2" height="2.2"/><rect x="542.5" y="220.0" width="2.2" height="2.2"/><rect x="547.0" y="220.0" width="2.2" height="2.2"/><rect x="551.5" y="220.0" width="2.2" height="2.2"/><rect x="556.0" y="220.0" width="2.2" height="2.2"/></g>
<g fill="#5a3a06" fill-opacity="0.6"><rect x="556.0" y="214.5" width="2.2" height="2.2"/><rect x="560.5" y="214.5" width="2.2" height="2.2"/><rect x="565.0" y="214.5" width="2.2" height="2.2"/><rect x="556.0" y="220.0" width="2.2" height="2.2"/><rect x="560.5" y="220.0" width="2.2" height="2.2"/><rect x="565.0" y="220.0" width="2.2" height="2.2"/></g>
<g fill="#4a3a06" fill-opacity="0.6"><rect x="578.0" y="214.5" width="2.2" height="2.2"/><rect x="578.0" y="220.0" width="2.2" height="2.2"/></g>
<g fill="#5a3a06" fill-opacity="0.6"><rect x="520.0" y="192.0" width="1.8" height="1.8"/><rect x="520.0" y="196.0" width="1.8" height="1.8"/><rect x="520.0" y="200.0" width="1.8" height="1.8"/><rect x="520.0" y="204.0" width="1.8" height="1.8"/><rect x="520.0" y="208.0" width="1.8" height="1.8"/><rect x="520.0" y="212.0" width="1.8" height="1.8"/><rect x="520.0" y="216.0" width="1.8" height="1.8"/><rect x="520.0" y="220.0" width="1.8" height="1.8"/><rect x="520.0" y="224.0" width="1.8" height="1.8"/><rect x="520.0" y="228.0" width="1.8" height="1.8"/><rect x="520.0" y="232.0" width="1.8" height="1.8"/><rect x="520.0" y="236.0" width="1.8" height="1.8"/><rect x="520.0" y="240.0" width="1.8" height="1.8"/><rect x="520.0" y="244.0" width="1.8" height="1.8"/><rect x="520.0" y="248.0" width="1.8" height="1.8"/></g>
<g fill="#5a3a06" fill-opacity="0.6"><rect x="530.0" y="192.0" width="1.8" height="1.8"/><rect x="530.0" y="196.0" width="1.8" height="1.8"/><rect x="530.0" y="200.0" width="1.8" height="1.8"/><rect x="530.0" y="204.0" width="1.8" height="1.8"/><rect x="530.0" y="208.0" width="1.8" height="1.8"/><rect x="530.0" y="212.0" width="1.8" height="1.8"/><rect x="530.0" y="216.0" width="1.8" height="1.8"/><rect x="530.0" y="220.0" width="1.8" height="1.8"/><rect x="530.0" y="224.0" width="1.8" height="1.8"/><rect x="530.0" y="228.0" width="1.8" height="1.8"/><rect x="530.0" y="232.0" width="1.8" height="1.8"/><rect x="530.0" y="236.0" width="1.8" height="1.8"/><rect x="530.0" y="240.0" width="1.8" height="1.8"/><rect x="530.0" y="244.0" width="1.8" height="1.8"/><rect x="530.0" y="248.0" width="1.8" height="1.8"/></g>
<g stroke="#4e2404" stroke-width="1" stroke-opacity="0.85"><path d="M499,192.0 H518"/><path d="M499,195.8 H518"/><path d="M499,199.6 H518"/><path d="M499,203.4 H518"/><path d="M499,207.2 H518"/><path d="M499,211.0 H518"/><path d="M499,214.8 H518"/><path d="M499,218.6 H518"/><path d="M499,222.4 H518"/><path d="M499,226.2 H518"/><path d="M499,230.0 H518"/><path d="M499,233.8 H518"/><path d="M499,237.6 H518"/><path d="M499,241.4 H518"/><path d="M499,245.2 H518"/><path d="M499,249.0 H518"/><path d="M499,252.8 H518"/></g>
<g fill="#f4a820" fill-opacity="0.8"><rect x="490.5" y="193.0" width="9" height="2.4"/><rect x="490.5" y="198.5" width="9" height="2.4"/><rect x="490.5" y="204.0" width="9" height="2.4"/><rect x="490.5" y="209.5" width="9" height="2.4"/><rect x="490.5" y="215.0" width="9" height="2.4"/><rect x="490.5" y="220.5" width="9" height="2.4"/><rect x="490.5" y="226.0" width="9" height="2.4"/><rect x="490.5" y="231.5" width="9" height="2.4"/><rect x="490.5" y="237.0" width="9" height="2.4"/></g>
<g fill="none" stroke="#d8902a" stroke-width="0.8" stroke-opacity="0.85"><rect x="663.0" y="154.5" width="2.4" height="2.4"/><rect x="666.5" y="154.5" width="2.4" height="2.4"/><rect x="670.0" y="154.5" width="2.4" height="2.4"/><rect x="673.5" y="154.5" width="2.4" height="2.4"/><rect x="677.0" y="154.5" width="2.4" height="2.4"/><rect x="663.0" y="158.3" width="2.4" height="2.4"/><rect x="666.5" y="158.3" width="2.4" height="2.4"/><rect x="670.0" y="158.3" width="2.4" height="2.4"/><rect x="673.5" y="158.3" width="2.4" height="2.4"/><rect x="677.0" y="158.3" width="2.4" height="2.4"/><rect x="663.0" y="162.1" width="2.4" height="2.4"/><rect x="666.5" y="162.1" width="2.4" height="2.4"/><rect x="670.0" y="162.1" width="2.4" height="2.4"/><rect x="673.5" y="162.1" width="2.4" height="2.4"/><rect x="677.0" y="162.1" width="2.4" height="2.4"/><rect x="663.0" y="165.9" width="2.4" height="2.4"/><rect x="666.5" y="165.9" width="2.4" height="2.4"/><rect x="670.0" y="165.9" width="2.4" height="2.4"/><rect x="673.5" y="165.9" width="2.4" height="2.4"/><rect x="677.0" y="165.9" width="2.4" height="2.4"/></g>
<g fill="none" stroke="#d8902a" stroke-width="0.8" stroke-opacity="0.8"><rect x="615.5" y="230.0" width="2.2" height="2.2"/><rect x="618.7" y="230.0" width="2.2" height="2.2"/><rect x="621.9" y="230.0" width="2.2" height="2.2"/><rect x="625.1" y="230.0" width="2.2" height="2.2"/><rect x="615.5" y="233.6" width="2.2" height="2.2"/><rect x="618.7" y="233.6" width="2.2" height="2.2"/><rect x="621.9" y="233.6" width="2.2" height="2.2"/><rect x="625.1" y="233.6" width="2.2" height="2.2"/><rect x="615.5" y="237.2" width="2.2" height="2.2"/><rect x="618.7" y="237.2" width="2.2" height="2.2"/><rect x="621.9" y="237.2" width="2.2" height="2.2"/><rect x="625.1" y="237.2" width="2.2" height="2.2"/><rect x="615.5" y="240.8" width="2.2" height="2.2"/><rect x="618.7" y="240.8" width="2.2" height="2.2"/><rect x="621.9" y="240.8" width="2.2" height="2.2"/><rect x="625.1" y="240.8" width="2.2" height="2.2"/><rect x="615.5" y="244.4" width="2.2" height="2.2"/><rect x="618.7" y="244.4" width="2.2" height="2.2"/><rect x="621.9" y="244.4" width="2.2" height="2.2"/><rect x="625.1" y="244.4" width="2.2" height="2.2"/><rect x="615.5" y="248.0" width="2.2" height="2.2"/><rect x="618.7" y="248.0" width="2.2" height="2.2"/><rect x="621.9" y="248.0" width="2.2" height="2.2"/><rect x="625.1" y="248.0" width="2.2" height="2.2"/><rect x="615.5" y="251.6" width="2.2" height="2.2"/><rect x="618.7" y="251.6" width="2.2" height="2.2"/><rect x="621.9" y="251.6" width="2.2" height="2.2"/><rect x="625.1" y="251.6" width="2.2" height="2.2"/><rect x="615.5" y="255.2" width="2.2" height="2.2"/><rect x="618.7" y="255.2" width="2.2" height="2.2"/><rect x="621.9" y="255.2" width="2.2" height="2.2"/><rect x="625.1" y="255.2" width="2.2" height="2.2"/></g>
<g fill="none" stroke="#d8902a" stroke-width="0.8" stroke-opacity="0.75"><rect x="632.0" y="234.0" width="2.2" height="2.2"/><rect x="635.2" y="234.0" width="2.2" height="2.2"/><rect x="638.4" y="234.0" width="2.2" height="2.2"/><rect x="641.6" y="234.0" width="2.2" height="2.2"/><rect x="632.0" y="237.6" width="2.2" height="2.2"/><rect x="635.2" y="237.6" width="2.2" height="2.2"/><rect x="638.4" y="237.6" width="2.2" height="2.2"/><rect x="641.6" y="237.6" width="2.2" height="2.2"/><rect x="632.0" y="241.2" width="2.2" height="2.2"/><rect x="635.2" y="241.2" width="2.2" height="2.2"/><rect x="638.4" y="241.2" width="2.2" height="2.2"/><rect x="641.6" y="241.2" width="2.2" height="2.2"/><rect x="632.0" y="244.8" width="2.2" height="2.2"/><rect x="635.2" y="244.8" width="2.2" height="2.2"/><rect x="638.4" y="244.8" width="2.2" height="2.2"/><rect x="641.6" y="244.8" width="2.2" height="2.2"/><rect x="632.0" y="248.4" width="2.2" height="2.2"/><rect x="635.2" y="248.4" width="2.2" height="2.2"/><rect x="638.4" y="248.4" width="2.2" height="2.2"/><rect x="641.6" y="248.4" width="2.2" height="2.2"/><rect x="632.0" y="252.0" width="2.2" height="2.2"/><rect x="635.2" y="252.0" width="2.2" height="2.2"/><rect x="638.4" y="252.0" width="2.2" height="2.2"/><rect x="641.6" y="252.0" width="2.2" height="2.2"/><rect x="632.0" y="255.6" width="2.2" height="2.2"/><rect x="635.2" y="255.6" width="2.2" height="2.2"/><rect x="638.4" y="255.6" width="2.2" height="2.2"/><rect x="641.6" y="255.6" width="2.2" height="2.2"/></g>
<g fill="none" stroke="#c8902a" stroke-width="0.8" stroke-opacity="0.7"><rect x="610.0" y="296.0" width="2.2" height="2.2"/><rect x="613.2" y="296.0" width="2.2" height="2.2"/><rect x="616.4" y="296.0" width="2.2" height="2.2"/><rect x="619.6" y="296.0" width="2.2" height="2.2"/><rect x="622.8" y="296.0" width="2.2" height="2.2"/><rect x="626.0" y="296.0" width="2.2" height="2.2"/><rect x="610.0" y="299.6" width="2.2" height="2.2"/><rect x="613.2" y="299.6" width="2.2" height="2.2"/><rect x="616.4" y="299.6" width="2.2" height="2.2"/><rect x="619.6" y="299.6" width="2.2" height="2.2"/><rect x="622.8" y="299.6" width="2.2" height="2.2"/><rect x="626.0" y="299.6" width="2.2" height="2.2"/><rect x="610.0" y="303.2" width="2.2" height="2.2"/><rect x="613.2" y="303.2" width="2.2" height="2.2"/><rect x="616.4" y="303.2" width="2.2" height="2.2"/><rect x="619.6" y="303.2" width="2.2" height="2.2"/><rect x="622.8" y="303.2" width="2.2" height="2.2"/><rect x="626.0" y="303.2" width="2.2" height="2.2"/><rect x="610.0" y="306.8" width="2.2" height="2.2"/><rect x="613.2" y="306.8" width="2.2" height="2.2"/><rect x="616.4" y="306.8" width="2.2" height="2.2"/><rect x="619.6" y="306.8" width="2.2" height="2.2"/><rect x="622.8" y="306.8" width="2.2" height="2.2"/><rect x="626.0" y="306.8" width="2.2" height="2.2"/></g>
<g fill="none" stroke="#d8902a" stroke-width="0.8" stroke-opacity="0.55"><rect x="682.0" y="196.0" width="2.2" height="2.2"/><rect x="685.5" y="196.0" width="2.2" height="2.2"/><rect x="689.0" y="196.0" width="2.2" height="2.2"/><rect x="692.5" y="196.0" width="2.2" height="2.2"/><rect x="696.0" y="196.0" width="2.2" height="2.2"/><rect x="699.5" y="196.0" width="2.2" height="2.2"/><rect x="682.0" y="199.8" width="2.2" height="2.2"/><rect x="685.5" y="199.8" width="2.2" height="2.2"/><rect x="689.0" y="199.8" width="2.2" height="2.2"/><rect x="692.5" y="199.8" width="2.2" height="2.2"/><rect x="696.0" y="199.8" width="2.2" height="2.2"/><rect x="699.5" y="199.8" width="2.2" height="2.2"/><rect x="682.0" y="203.6" width="2.2" height="2.2"/><rect x="685.5" y="203.6" width="2.2" height="2.2"/><rect x="689.0" y="203.6" width="2.2" height="2.2"/><rect x="692.5" y="203.6" width="2.2" height="2.2"/><rect x="696.0" y="203.6" width="2.2" height="2.2"/><rect x="699.5" y="203.6" width="2.2" height="2.2"/><rect x="682.0" y="207.4" width="2.2" height="2.2"/><rect x="685.5" y="207.4" width="2.2" height="2.2"/><rect x="689.0" y="207.4" width="2.2" height="2.2"/><rect x="692.5" y="207.4" width="2.2" height="2.2"/><rect x="696.0" y="207.4" width="2.2" height="2.2"/><rect x="699.5" y="207.4" width="2.2" height="2.2"/><rect x="682.0" y="211.2" width="2.2" height="2.2"/><rect x="685.5" y="211.2" width="2.2" height="2.2"/><rect x="689.0" y="211.2" width="2.2" height="2.2"/><rect x="692.5" y="211.2" width="2.2" height="2.2"/><rect x="696.0" y="211.2" width="2.2" height="2.2"/><rect x="699.5" y="211.2" width="2.2" height="2.2"/><rect x="682.0" y="215.0" width="2.2" height="2.2"/><rect x="685.5" y="215.0" width="2.2" height="2.2"/><rect x="689.0" y="215.0" width="2.2" height="2.2"/><rect x="692.5" y="215.0" width="2.2" height="2.2"/><rect x="696.0" y="215.0" width="2.2" height="2.2"/><rect x="699.5" y="215.0" width="2.2" height="2.2"/><rect x="682.0" y="218.8" width="2.2" height="2.2"/><rect x="685.5" y="218.8" width="2.2" height="2.2"/><rect x="689.0" y="218.8" width="2.2" height="2.2"/><rect x="692.5" y="218.8" width="2.2" height="2.2"/><rect x="696.0" y="218.8" width="2.2" height="2.2"/><rect x="699.5" y="218.8" width="2.2" height="2.2"/><rect x="682.0" y="222.6" width="2.2" height="2.2"/><rect x="685.5" y="222.6" width="2.2" height="2.2"/><rect x="689.0" y="222.6" width="2.2" height="2.2"/><rect x="692.5" y="222.6" width="2.2" height="2.2"/><rect x="696.0" y="222.6" width="2.2" height="2.2"/><rect x="699.5" y="222.6" width="2.2" height="2.2"/><rect x="682.0" y="226.4" width="2.2" height="2.2"/><rect x="685.5" y="226.4" width="2.2" height="2.2"/><rect x="689.0" y="226.4" width="2.2" height="2.2"/><rect x="692.5" y="226.4" width="2.2" height="2.2"/><rect x="696.0" y="226.4" width="2.2" height="2.2"/><rect x="699.5" y="226.4" width="2.2" height="2.2"/></g>
<g fill="none" stroke="#5a3a06" stroke-width="0.8" stroke-opacity="0.6"><rect x="575.0" y="266.0" width="2.2" height="2.2"/><rect x="578.5" y="266.0" width="2.2" height="2.2"/><rect x="582.0" y="266.0" width="2.2" height="2.2"/><rect x="585.5" y="266.0" width="2.2" height="2.2"/><rect x="589.0" y="266.0" width="2.2" height="2.2"/><rect x="592.5" y="266.0" width="2.2" height="2.2"/><rect x="596.0" y="266.0" width="2.2" height="2.2"/><rect x="599.5" y="266.0" width="2.2" height="2.2"/></g>
<g fill="none" stroke="#6a2a06" stroke-width="0.8" stroke-opacity="0.5"><rect x="588.0" y="200.0" width="1.8" height="1.8"/><rect x="591.5" y="200.0" width="1.8" height="1.8"/><rect x="595.0" y="200.0" width="1.8" height="1.8"/><rect x="598.5" y="200.0" width="1.8" height="1.8"/><rect x="602.0" y="200.0" width="1.8" height="1.8"/><rect x="605.5" y="200.0" width="1.8" height="1.8"/><rect x="609.0" y="200.0" width="1.8" height="1.8"/><rect x="612.5" y="200.0" width="1.8" height="1.8"/><rect x="616.0" y="200.0" width="1.8" height="1.8"/></g>
<g fill="none" stroke="#b87a20" stroke-width="0.8" stroke-opacity="0.6"><rect x="548.0" y="252.0" width="2.2" height="2.2"/><rect x="551.4" y="252.0" width="2.2" height="2.2"/><rect x="554.8" y="252.0" width="2.2" height="2.2"/><rect x="558.2" y="252.0" width="2.2" height="2.2"/><rect x="561.6" y="252.0" width="2.2" height="2.2"/><rect x="565.0" y="252.0" width="2.2" height="2.2"/><rect x="568.4" y="252.0" width="2.2" height="2.2"/><rect x="571.8" y="252.0" width="2.2" height="2.2"/><rect x="548.0" y="255.6" width="2.2" height="2.2"/><rect x="551.4" y="255.6" width="2.2" height="2.2"/><rect x="554.8" y="255.6" width="2.2" height="2.2"/><rect x="558.2" y="255.6" width="2.2" height="2.2"/><rect x="561.6" y="255.6" width="2.2" height="2.2"/><rect x="565.0" y="255.6" width="2.2" height="2.2"/><rect x="568.4" y="255.6" width="2.2" height="2.2"/><rect x="571.8" y="255.6" width="2.2" height="2.2"/><rect x="548.0" y="259.2" width="2.2" height="2.2"/><rect x="551.4" y="259.2" width="2.2" height="2.2"/><rect x="554.8" y="259.2" width="2.2" height="2.2"/><rect x="558.2" y="259.2" width="2.2" height="2.2"/><rect x="561.6" y="259.2" width="2.2" height="2.2"/><rect x="565.0" y="259.2" width="2.2" height="2.2"/><rect x="568.4" y="259.2" width="2.2" height="2.2"/><rect x="571.8" y="259.2" width="2.2" height="2.2"/><rect x="548.0" y="262.8" width="2.2" height="2.2"/><rect x="551.4" y="262.8" width="2.2" height="2.2"/><rect x="554.8" y="262.8" width="2.2" height="2.2"/><rect x="558.2" y="262.8" width="2.2" height="2.2"/><rect x="561.6" y="262.8" width="2.2" height="2.2"/><rect x="565.0" y="262.8" width="2.2" height="2.2"/><rect x="568.4" y="262.8" width="2.2" height="2.2"/><rect x="571.8" y="262.8" width="2.2" height="2.2"/></g>
<g fill="none" stroke="#b87a20" stroke-width="0.8" stroke-opacity="0.6"><rect x="577.0" y="251.0" width="2.2" height="2.2"/><rect x="580.4" y="251.0" width="2.2" height="2.2"/><rect x="583.8" y="251.0" width="2.2" height="2.2"/><rect x="587.2" y="251.0" width="2.2" height="2.2"/><rect x="590.6" y="251.0" width="2.2" height="2.2"/><rect x="594.0" y="251.0" width="2.2" height="2.2"/><rect x="597.4" y="251.0" width="2.2" height="2.2"/><rect x="577.0" y="254.6" width="2.2" height="2.2"/><rect x="580.4" y="254.6" width="2.2" height="2.2"/><rect x="583.8" y="254.6" width="2.2" height="2.2"/><rect x="587.2" y="254.6" width="2.2" height="2.2"/><rect x="590.6" y="254.6" width="2.2" height="2.2"/><rect x="594.0" y="254.6" width="2.2" height="2.2"/><rect x="597.4" y="254.6" width="2.2" height="2.2"/><rect x="577.0" y="258.2" width="2.2" height="2.2"/><rect x="580.4" y="258.2" width="2.2" height="2.2"/><rect x="583.8" y="258.2" width="2.2" height="2.2"/><rect x="587.2" y="258.2" width="2.2" height="2.2"/><rect x="590.6" y="258.2" width="2.2" height="2.2"/><rect x="594.0" y="258.2" width="2.2" height="2.2"/><rect x="597.4" y="258.2" width="2.2" height="2.2"/></g>
<g fill="none" stroke="#c88a2a" stroke-width="0.8" stroke-opacity="0.6"><rect x="604.0" y="250.0" width="2.2" height="2.2"/><rect x="607.4" y="250.0" width="2.2" height="2.2"/><rect x="610.8" y="250.0" width="2.2" height="2.2"/><rect x="604.0" y="253.6" width="2.2" height="2.2"/><rect x="607.4" y="253.6" width="2.2" height="2.2"/><rect x="610.8" y="253.6" width="2.2" height="2.2"/><rect x="604.0" y="257.2" width="2.2" height="2.2"/><rect x="607.4" y="257.2" width="2.2" height="2.2"/><rect x="610.8" y="257.2" width="2.2" height="2.2"/><rect x="604.0" y="260.8" width="2.2" height="2.2"/><rect x="607.4" y="260.8" width="2.2" height="2.2"/><rect x="610.8" y="260.8" width="2.2" height="2.2"/></g>
<g fill="none" stroke="#c88a2a" stroke-width="0.8" stroke-opacity="0.6"><rect x="615.5" y="260.0" width="2.2" height="2.2"/><rect x="618.7" y="260.0" width="2.2" height="2.2"/><rect x="621.9" y="260.0" width="2.2" height="2.2"/><rect x="625.1" y="260.0" width="2.2" height="2.2"/><rect x="615.5" y="263.6" width="2.2" height="2.2"/><rect x="618.7" y="263.6" width="2.2" height="2.2"/><rect x="621.9" y="263.6" width="2.2" height="2.2"/><rect x="625.1" y="263.6" width="2.2" height="2.2"/><rect x="615.5" y="267.2" width="2.2" height="2.2"/><rect x="618.7" y="267.2" width="2.2" height="2.2"/><rect x="621.9" y="267.2" width="2.2" height="2.2"/><rect x="625.1" y="267.2" width="2.2" height="2.2"/><rect x="615.5" y="270.8" width="2.2" height="2.2"/><rect x="618.7" y="270.8" width="2.2" height="2.2"/><rect x="621.9" y="270.8" width="2.2" height="2.2"/><rect x="625.1" y="270.8" width="2.2" height="2.2"/><rect x="615.5" y="274.4" width="2.2" height="2.2"/><rect x="618.7" y="274.4" width="2.2" height="2.2"/><rect x="621.9" y="274.4" width="2.2" height="2.2"/><rect x="625.1" y="274.4" width="2.2" height="2.2"/><rect x="615.5" y="278.0" width="2.2" height="2.2"/><rect x="618.7" y="278.0" width="2.2" height="2.2"/><rect x="621.9" y="278.0" width="2.2" height="2.2"/><rect x="625.1" y="278.0" width="2.2" height="2.2"/><rect x="615.5" y="281.6" width="2.2" height="2.2"/><rect x="618.7" y="281.6" width="2.2" height="2.2"/><rect x="621.9" y="281.6" width="2.2" height="2.2"/><rect x="625.1" y="281.6" width="2.2" height="2.2"/><rect x="615.5" y="285.2" width="2.2" height="2.2"/><rect x="618.7" y="285.2" width="2.2" height="2.2"/><rect x="621.9" y="285.2" width="2.2" height="2.2"/><rect x="625.1" y="285.2" width="2.2" height="2.2"/><rect x="615.5" y="288.8" width="2.2" height="2.2"/><rect x="618.7" y="288.8" width="2.2" height="2.2"/><rect x="621.9" y="288.8" width="2.2" height="2.2"/><rect x="625.1" y="288.8" width="2.2" height="2.2"/><rect x="615.5" y="292.4" width="2.2" height="2.2"/><rect x="618.7" y="292.4" width="2.2" height="2.2"/><rect x="621.9" y="292.4" width="2.2" height="2.2"/><rect x="625.1" y="292.4" width="2.2" height="2.2"/><rect x="615.5" y="296.0" width="2.2" height="2.2"/><rect x="618.7" y="296.0" width="2.2" height="2.2"/><rect x="621.9" y="296.0" width="2.2" height="2.2"/><rect x="625.1" y="296.0" width="2.2" height="2.2"/><rect x="615.5" y="299.6" width="2.2" height="2.2"/><rect x="618.7" y="299.6" width="2.2" height="2.2"/><rect x="621.9" y="299.6" width="2.2" height="2.2"/><rect x="625.1" y="299.6" width="2.2" height="2.2"/></g>
<g fill="none" stroke="#c88a2a" stroke-width="0.8" stroke-opacity="0.55"><rect x="632.0" y="260.0" width="2.2" height="2.2"/><rect x="635.2" y="260.0" width="2.2" height="2.2"/><rect x="638.4" y="260.0" width="2.2" height="2.2"/><rect x="641.6" y="260.0" width="2.2" height="2.2"/><rect x="632.0" y="263.6" width="2.2" height="2.2"/><rect x="635.2" y="263.6" width="2.2" height="2.2"/><rect x="638.4" y="263.6" width="2.2" height="2.2"/><rect x="641.6" y="263.6" width="2.2" height="2.2"/><rect x="632.0" y="267.2" width="2.2" height="2.2"/><rect x="635.2" y="267.2" width="2.2" height="2.2"/><rect x="638.4" y="267.2" width="2.2" height="2.2"/><rect x="641.6" y="267.2" width="2.2" height="2.2"/><rect x="632.0" y="270.8" width="2.2" height="2.2"/><rect x="635.2" y="270.8" width="2.2" height="2.2"/><rect x="638.4" y="270.8" width="2.2" height="2.2"/><rect x="641.6" y="270.8" width="2.2" height="2.2"/><rect x="632.0" y="274.4" width="2.2" height="2.2"/><rect x="635.2" y="274.4" width="2.2" height="2.2"/><rect x="638.4" y="274.4" width="2.2" height="2.2"/><rect x="641.6" y="274.4" width="2.2" height="2.2"/><rect x="632.0" y="278.0" width="2.2" height="2.2"/><rect x="635.2" y="278.0" width="2.2" height="2.2"/><rect x="638.4" y="278.0" width="2.2" height="2.2"/><rect x="641.6" y="278.0" width="2.2" height="2.2"/><rect x="632.0" y="281.6" width="2.2" height="2.2"/><rect x="635.2" y="281.6" width="2.2" height="2.2"/><rect x="638.4" y="281.6" width="2.2" height="2.2"/><rect x="641.6" y="281.6" width="2.2" height="2.2"/><rect x="632.0" y="285.2" width="2.2" height="2.2"/><rect x="635.2" y="285.2" width="2.2" height="2.2"/><rect x="638.4" y="285.2" width="2.2" height="2.2"/><rect x="641.6" y="285.2" width="2.2" height="2.2"/><rect x="632.0" y="288.8" width="2.2" height="2.2"/><rect x="635.2" y="288.8" width="2.2" height="2.2"/><rect x="638.4" y="288.8" width="2.2" height="2.2"/><rect x="641.6" y="288.8" width="2.2" height="2.2"/><rect x="632.0" y="292.4" width="2.2" height="2.2"/><rect x="635.2" y="292.4" width="2.2" height="2.2"/><rect x="638.4" y="292.4" width="2.2" height="2.2"/><rect x="641.6" y="292.4" width="2.2" height="2.2"/><rect x="632.0" y="296.0" width="2.2" height="2.2"/><rect x="635.2" y="296.0" width="2.2" height="2.2"/><rect x="638.4" y="296.0" width="2.2" height="2.2"/><rect x="641.6" y="296.0" width="2.2" height="2.2"/><rect x="632.0" y="299.6" width="2.2" height="2.2"/><rect x="635.2" y="299.6" width="2.2" height="2.2"/><rect x="638.4" y="299.6" width="2.2" height="2.2"/><rect x="641.6" y="299.6" width="2.2" height="2.2"/></g>
<g fill="none" stroke="#4e2404" stroke-width="1.7" stroke-opacity="0.9" stroke-linejoin="miter">
 <path d="M491.7,151 H705"/>
 <path d="M497.9,174.4 V189.5 H588"/>
 <path d="M518.2,189.5 V171 H647.2 M647.2,151 V190"/>
 <path d="M486,254.5 H493.8 V251 H526.8 V254.5 H539.2 V242.8 H604"/>
 <path d="M497.6,262.6 H528.4 V266.3 H553.4 V248 H574"/>
 <path d="M501.3,268.5 V304.4 M506.4,268.5 V310.3"/>
 <path d="M486,258.2 H497 V255.4 H523 V258.2 H543 V246.6 H604" stroke-width="1.2" stroke-opacity="0.75"/>
 <path d="M510.5,272 V312" stroke-width="1.1" stroke-opacity="0.7"/>
 <path d="M619.7,198.5 H641"/>
</g>
<g fill="none" stroke="#5a2c04" stroke-width="0.8" stroke-opacity="0.7">
 <path d="M513,170 V155.8 H545 V170"/>
 <path d="M493.8,151 V162 H497"/>
 <path d="M490,174.4 H498"/>
 <path d="M517.2,198 V255"/>
 <path d="M530,224.9 H562"/>
 <path d="M493.8,229.7 H500 V234 H506 V238 H512 V242 H518"/>
 <path d="M506,272.1 H604"/>
 <rect x="514.5" y="274.4" width="23.5" height="24.2"/>
 <path d="M535.8,272 V296 M547.5,272 V296 M559.4,270 V296 M569.7,270 V296 M585,270 V296 M594.6,270 V296 M603.4,270 V296"/>
 <path d="M571.5,165 V200 M581,165 V189.5 M586,165 V189.5 M615.6,165 V189.5"/>
 <path d="M555,231.7 H615 M555,238 H607.3 V258"/>
</g>
<g fill="none" stroke="#1a5a20" stroke-width="0.8" stroke-opacity="0.8">
 <path d="M689.8,151 V300"/>
 <path d="M680,155 H703 M680,164 H703 M680,175.7 H703 M680,185.4 H703 M694,240 H703 M694,250 H703"/>
</g>
<g fill="none" stroke="#c07a20" stroke-width="0.8" stroke-opacity="0.75">
 <path d="M660.2,151 V300"/>
 <path d="M615,262.6 H703 M625,267 H703 M640,271.5 H703 M640,276 H703 M640,280.5 H700"/>
</g>
<g fill="#4a2c04" fill-opacity="0.6"><rect x="520.0" y="187" width="1.8" height="2"/><rect x="523.6" y="187" width="1.8" height="2"/><rect x="527.2" y="187" width="1.8" height="2"/><rect x="530.8" y="187" width="1.8" height="2"/><rect x="534.4" y="187" width="1.8" height="2"/><rect x="538.0" y="187" width="1.8" height="2"/><rect x="541.6" y="187" width="1.8" height="2"/><rect x="545.2" y="187" width="1.8" height="2"/><rect x="548.8" y="187" width="1.8" height="2"/><rect x="552.4" y="187" width="1.8" height="2"/><rect x="556.0" y="187" width="1.8" height="2"/><rect x="559.6" y="187" width="1.8" height="2"/><rect x="563.2" y="187" width="1.8" height="2"/><rect x="566.8" y="187" width="1.8" height="2"/><rect x="570.4" y="187" width="1.8" height="2"/><rect x="574.0" y="187" width="1.8" height="2"/><rect x="577.6" y="187" width="1.8" height="2"/><rect x="581.2" y="187" width="1.8" height="2"/><rect x="584.8" y="187" width="1.8" height="2"/><rect x="588.4" y="187" width="1.8" height="2"/><rect x="592.0" y="187" width="1.8" height="2"/><rect x="595.6" y="187" width="1.8" height="2"/></g>
<path d="M530,196.5 H588" stroke="#4e2404" stroke-width="0.9" stroke-opacity="0.7"/>
<path d="M588,198.5 H619.7" stroke="#3a0e04" stroke-width="2.2" stroke-opacity="0.9"/>
<rect x="645" y="194" width="12.5" height="14" fill="#4a1208" fill-opacity="0.9"/><path d="M645,197 h12.5 M645,201 h12.5 M645,205 h12.5" stroke="#8a3a1a" stroke-width="0.7" stroke-opacity="0.6"/>
<!-- coupler marks -->
<g stroke="#1a3a10" stroke-width="1" stroke-opacity="0.45"><path d="M666.5,182 h4 M666.5,193 h4 M666.5,204 h4 M666.5,215 h4 M666.5,226 h4 M666.5,237 h4 M666.5,248 h4 M666.5,259 h4 M666.5,270 h4 M666.5,281 h4"/></g>
<!-- dark area behind scale -->
<rect x="655.5" y="290.5" width="50" height="20" fill="#173f14" fill-opacity="0.4"/>
<path d="M692,234 Q688,260 686.3,270.7 L681.2,300" fill="none" stroke="#b42014" stroke-width="1.6"/>
<!-- white boxes -->
<g fill="none" stroke="#f8f5e2" stroke-width="1.5">
 <rect x="588" y="189.5" width="31.7" height="16.8"/>
 <rect x="637.7" y="189.2" width="20.6" height="22"/>
 <rect x="663.7" y="170.6" width="13.8" height="117"/>
 <rect x="574.8" y="248.3" width="27.7" height="15"/>
</g>
<g font-family="Liberation Sans,sans-serif" fill="#f6f2dc" font-size="12.5" stroke="#f6f2dc" stroke-width="0.25">
 <text x="533.5" y="184.3" textLength="104.5" lengthAdjust="spacingAndGlyphs">4x25G Ge PD array</text>
 <text x="586.5" y="224.4" textLength="72.3" lengthAdjust="spacingAndGlyphs">DWDM Filter</text>
 <text x="555.3" y="278.2" textLength="65.7" lengthAdjust="spacingAndGlyphs">4x 25G Ring</text>
 <text x="543.4" y="293.8" textLength="89" lengthAdjust="spacingAndGlyphs">Modulator Array</text>
 <text transform="translate(689.8,270) rotate(-90)" x="0" y="0" textLength="80" lengthAdjust="spacingAndGlyphs">Fiber Couplers</text>
 <text x="657.7" y="306.2" textLength="43.3" lengthAdjust="spacingAndGlyphs" font-size="14" stroke="#fbf7e6" stroke-width="0.35">1.5mm</text>
</g>
<rect x="651" y="311" width="59" height="5" fill="#ffffff"/>
<path d="M481.5,143.5 H714.5 M481.5,143.5 V317 H650" fill="none" stroke="#3a1a04" stroke-width="2"/>
<path d="M650,317 H714.5 V143.5" fill="none" stroke="#10301a" stroke-width="2"/>
</g>
</svg>

<div class="abs" id="botline"></div>
<div class="abs" id="src">来源：电子发烧友，中泰证券研究所</div>
<div class="abs" id="wm">头条 @未来智库</div>
</body></html>
